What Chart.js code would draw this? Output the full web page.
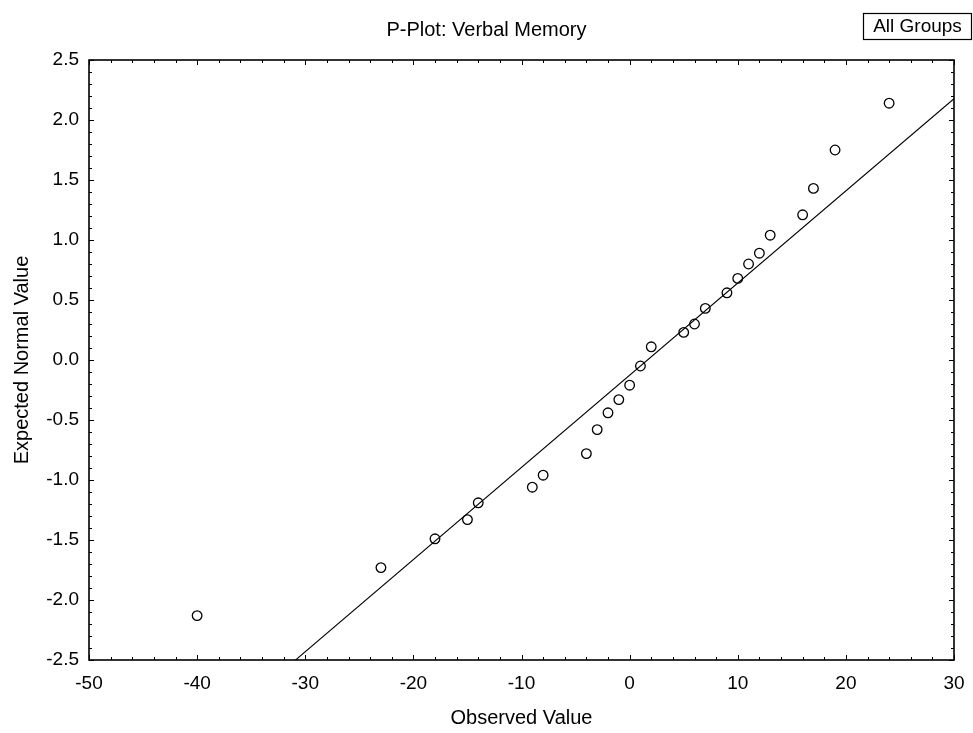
<!DOCTYPE html>
<html>
<head>
<meta charset="utf-8">
<title>P-Plot: Verbal Memory</title>
<script src="https://cdn.jsdelivr.net/npm/chart.js@4.4.1/dist/chart.umd.min.js"></script>
<style>
  html, body { margin: 0; padding: 0; background: #fff; }
  #wrap { width: 973px; height: 733px; }
</style>
</head>
<body>
<div id="wrap"><canvas id="pplot" width="973" height="733"></canvas></div>
<script>
// Data titik: nilai observasi (x) dan nilai normal harapan (y)
const observed = [-40, -23, -18, -15, -14, -9, -8, -4, -3, -2, -1, 0, 1, 2, 5, 6, 7, 9, 10, 11, 12, 13, 16, 17, 19, 24];
const expected = [-2.13, -1.73, -1.49, -1.33, -1.19, -1.06, -0.96, -0.78, -0.58, -0.44, -0.33, -0.21, -0.05, 0.11,
                  0.23, 0.30, 0.43, 0.56, 0.68, 0.80, 0.89, 1.04, 1.21, 1.43, 1.75, 2.14];

// Garis acuan normal
const fitSlope = 0.0768;
const fitIntercept = -0.127;

// Rentang sumbu dan jarak tick
const xRange = [-50, 30];
const yRange = [-2.5, 2.5];
const xSteps = [10, 2];     // major, minor
const ySteps = [0.5, 0.1];

const FONT = "'Liberation Sans', Arial, Helvetica, sans-serif";
Chart.defaults.font.family = FONT;
Chart.defaults.color = '#000';

const points = observed.map((v, i) => ({ x: v, y: expected[i] }));
const linePts = xRange.map(v => ({ x: v, y: fitIntercept + fitSlope * v }));

// Bingkai, tick ke dalam, judul dan kotak "All Groups"
const frameTicks = {
    id: 'frameTicks',
    afterDraw(chart) {
        const { ctx, chartArea: a, scales: { x, y } } = chart;
        ctx.save();
        ctx.strokeStyle = '#000';
        ctx.lineWidth = 1;

        const nx = Math.round((xRange[1] - xRange[0]) / xSteps[1]);
        for (let i = 0; i <= nx; i++) {
            const v = xRange[0] + i * xSteps[1];
            const px = Math.round(x.getPixelForValue(v)) + 0.5;
            const len = (i % Math.round(xSteps[0] / xSteps[1]) === 0) ? 5 : 3;
            ctx.beginPath();
            ctx.moveTo(px, a.bottom); ctx.lineTo(px, a.bottom - len);
            ctx.moveTo(px, a.top); ctx.lineTo(px, a.top + len);
            ctx.stroke();
        }
        const ny = Math.round((yRange[1] - yRange[0]) / ySteps[1]);
        for (let i = 0; i <= ny; i++) {
            const v = yRange[0] + i * ySteps[1];
            const py = Math.round(y.getPixelForValue(v)) + 0.5;
            const len = (i % Math.round(ySteps[0] / ySteps[1]) === 0) ? 5 : 3;
            ctx.beginPath();
            ctx.moveTo(a.left, py); ctx.lineTo(a.left + len, py);
            ctx.moveTo(a.right, py); ctx.lineTo(a.right - len, py);
            ctx.stroke();
        }

        ctx.lineWidth = 1.6;
        ctx.strokeRect(a.left, a.top, a.right - a.left, a.bottom - a.top);

        ctx.fillStyle = '#000';
        ctx.textAlign = 'center';
        ctx.textBaseline = 'middle';
        ctx.font = '20px ' + FONT;
        ctx.fillText('P-Plot: Verbal Memory', chart.width / 2, 30);

        ctx.lineWidth = 1.2;
        ctx.strokeRect(863.5, 13.5, 108, 26);
        ctx.font = '19px ' + FONT;
        ctx.fillText('All Groups', 917.5, 27);
        ctx.restore();
    }
};

const ctx = document.getElementById('pplot').getContext('2d');
const pplotChart = new Chart(ctx, {
    type: 'scatter',
    data: {
        datasets: [{
            label: 'Verbal Memory',
            data: points,
            pointStyle: 'circle',
            pointRadius: 4.8,
            pointHoverRadius: 4.8,
            pointBorderWidth: 1.3,
            borderColor: '#000',
            backgroundColor: 'rgba(255,255,255,0)'
        }, {
            type: 'line',
            label: 'Normal',
            data: linePts,
            borderColor: '#000',
            borderWidth: 1.1,
            pointRadius: 0,
            fill: false
        }]
    },
    options: {
        responsive: false,
        animation: false,
        devicePixelRatio: 1,
        layout: { padding: { top: 60, right: 19, left: 0, bottom: 0 } },
        plugins: {
            legend: { display: false },
            title: { display: false },
            tooltip: { enabled: false }
        },
        scales: {
            x: {
                type: 'linear',
                min: xRange[0],
                max: xRange[1],
                grid: { display: false, drawTicks: false },
                border: { display: false },
                ticks: { stepSize: xSteps[0], padding: 12, font: { size: 19 } },
                title: { display: true, text: 'Observed Value', font: { size: 20 }, padding: { top: 0, bottom: 3 } },
                afterFit(scale) {
                    scale.height = 73;
                    scale.paddingLeft = 0;
                    scale.paddingRight = 0;
                }
            },
            y: {
                type: 'linear',
                min: yRange[0],
                max: yRange[1],
                grid: { display: false, drawTicks: false },
                border: { display: false },
                ticks: {
                    stepSize: ySteps[0],
                    padding: 10,
                    font: { size: 19 },
                    callback: v => Number(v).toFixed(1)
                },
                title: { display: true, text: 'Expected Normal Value', font: { size: 20 }, padding: { top: 10, bottom: 0 } },
                afterFit(scale) {
                    scale.width = 89;
                    scale.paddingTop = 0;
                    scale.paddingBottom = 0;
                }
            }
        }
    },
    plugins: [frameTicks]
});
</script>
</body>
</html>
